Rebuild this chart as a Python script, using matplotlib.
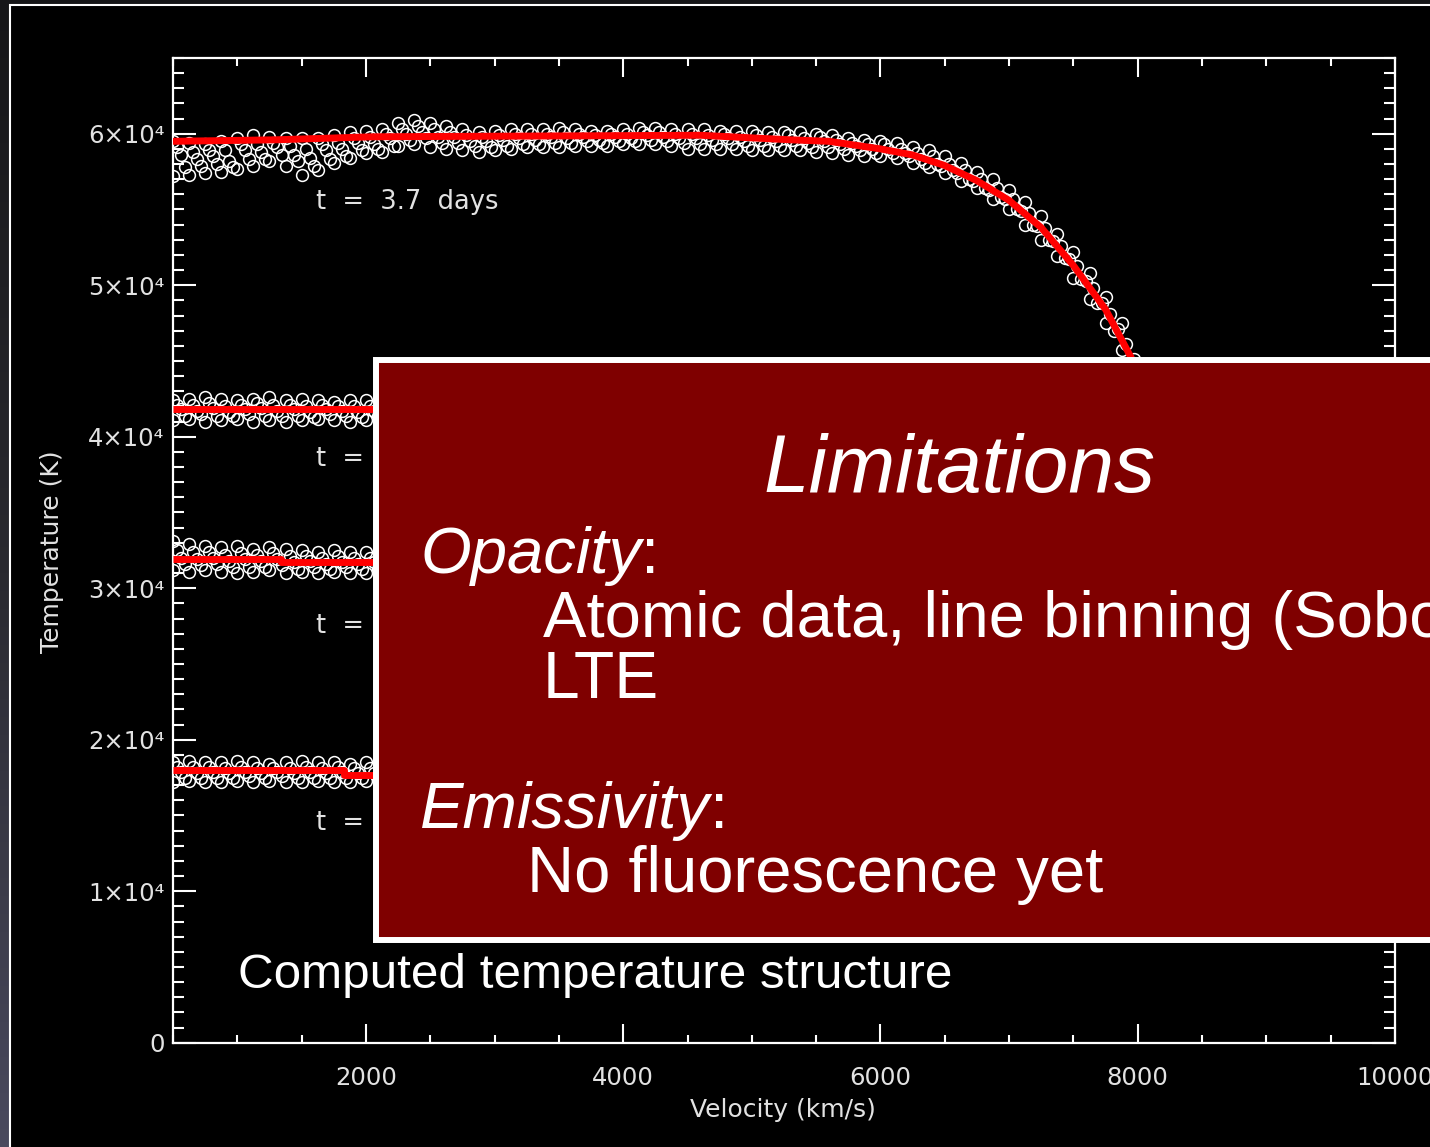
import matplotlib
matplotlib.use('Agg')
import matplotlib.pyplot as plt
import numpy as np
from matplotlib.patches import Rectangle
from matplotlib.colors import LinearSegmentedColormap
from matplotlib.ticker import MultipleLocator, FixedLocator, FixedFormatter

# ---------------- data ----------------
X_MAJOR = [2000, 4000, 6000, 8000, 10000]
X_LABELS = ['2000', '4000', '6000', '8000', '10000']
Y_MAJOR = [0, 10000, 20000, 30000, 40000, 50000, 60000]
Y_LABELS = ['0', '1×10⁴', '2×10⁴', '3×10⁴', '4×10⁴', '5×10⁴', '6×10⁴']

# t = 3.7 days : model (red) curve
MODEL1_V = [500, 1300, 2050, 4600, 5300, 5600, 6000, 6250, 6500, 6750, 7000, 7250, 7500, 7750, 7950, 8050]
MODEL1_T = [59500, 59600, 59800, 59900, 59600, 59500, 59000, 58600, 57900, 56900, 55600, 53800, 51300, 48400, 45200, 43000]

# t = 3.7 days : Monte-Carlo scatter (five rows of points across the band)
SCAT1_V = list(range(500, 7876, 125))
SCAT1_V_UM = list(range(531, 7907, 125))
SCAT1_V_MID = list(range(562, 7938, 125))
SCAT1_V_LM = list(range(594, 7970, 125))
SCAT1_UP = [59500, 59400, 59300, 59500, 59700, 59900, 59800, 59700, 59700, 59700,
            59900, 60100, 60200, 60300, 60700, 60900, 60700, 60500, 60300, 60100,
            60200, 60300, 60300, 60300, 60400, 60300, 60200, 60200, 60300, 60400,
            60400, 60300, 60300, 60300, 60200, 60200, 60200, 60100, 60100, 60100,
            60000, 59900, 59700, 59600, 59500, 59400, 59100, 58900, 58500, 58100,
            57500, 57000, 56300, 55500, 54600, 53400, 52200, 50800, 49200, 47500]
SCAT1_UM = [59100, 58800, 58900, 58900, 59300, 59300, 59400, 59200, 59000, 59300,
            59400, 59700, 59800, 60000, 60300, 60500, 60300, 60100, 59900, 59800,
            59900, 60000, 60000, 60000, 60100, 60000, 59900, 60000, 60000, 60100,
            60100, 60000, 60000, 59900, 60000, 59800, 59900, 59800, 59900, 59700,
            59800, 59600, 59400, 59300, 59300, 59000, 58700, 58500, 58000, 57600,
            57000, 56400, 55700, 54800, 53800, 52600, 51300, 49800, 48100, 46100]
SCAT1_MID = [58600, 58300, 58500, 58200, 58900, 58800, 59100, 58600, 58400, 58900,
             59000, 59400, 59300, 59700, 60000, 60100, 59800, 59800, 59500, 59500,
             59600, 59700, 59600, 59800, 59700, 59800, 59600, 59800, 59700, 59900,
             59800, 59700, 59700, 59600, 59700, 59500, 59600, 59500, 59600, 59400,
             59500, 59300, 59200, 59000, 59000, 58700, 58300, 58000, 57600, 57000,
             56400, 55800, 55000, 54000, 53000, 51800, 50400, 48800, 47000, 44800]
SCAT1_LM = [57800, 57900, 58000, 57800, 58300, 58300, 58600, 58200, 57900, 58300,
            58500, 58900, 59000, 59200, 59600, 59700, 59400, 59400, 59200, 59100,
            59200, 59300, 59300, 59400, 59400, 59500, 59400, 59500, 59500, 59600,
            59500, 59400, 59300, 59300, 59300, 59200, 59200, 59200, 59200, 59100,
            59100, 59000, 58900, 58700, 58700, 58500, 58100, 57900, 57400, 56900,
            56300, 55700, 54900, 53900, 52900, 51700, 50300, 48800, 47100, 45100]
SCAT1_LOW = [57200, 57300, 57400, 57500, 57700, 57900, 58200, 57900, 57300, 57600,
             58100, 58400, 58700, 58800, 59200, 59300, 59100, 59000, 58900, 58800,
             58900, 59000, 59100, 59100, 59100, 59200, 59200, 59200, 59300, 59300,
             59300, 59200, 59000, 59000, 59000, 59000, 58900, 58900, 58900, 58900,
             58800, 58700, 58600, 58500, 58500, 58400, 58100, 57800, 57400, 56900,
             56400, 55700, 55000, 54000, 53000, 51900, 50500, 49100, 47500, 45700]

# later epochs (visible part only, left of the overlay)
MODEL2_V = [500, 2100]
MODEL2_T = [41800, 41800]
MODEL3_V = [500, 1340, 1340, 2100]
MODEL3_T = [31900, 31900, 31700, 31700]
MODEL4_V = [500, 1830, 1830, 2100]
MODEL4_T = [18000, 18000, 17700, 17700]

SCAT_V = list(range(500, 2001, 125))
SCAT_V_UM = list(range(531, 2032, 125))
SCAT_V_MID = list(range(562, 2063, 125))
SCAT_V_LM = list(range(594, 2095, 125))
SCAT2_UP = [42400, 42500, 42600, 42500, 42400, 42500, 42600, 42400, 42500, 42400, 42300, 42400, 42400]
SCAT2_UM = [42100, 42100, 42200, 42000, 42100, 42200, 42100, 42100, 42000, 42100, 42000, 42000, 42000]
SCAT2_MID = [41800, 41700, 41900, 41600, 41800, 41900, 41700, 41800, 41600, 41800, 41700, 41600, 41700]
SCAT2_LM = [41400, 41500, 41400, 41400, 41500, 41400, 41400, 41400, 41300, 41500, 41400, 41300, 41400]
SCAT2_LOW = [41100, 41200, 41000, 41100, 41200, 41000, 41100, 41000, 41100, 41200, 41100, 41000, 41100]
SCAT3_UP = [33100, 32900, 32800, 32700, 32800, 32600, 32700, 32600, 32500, 32400, 32500, 32400, 32400]
SCAT3_UM = [32500, 32400, 32400, 32200, 32300, 32200, 32300, 32100, 32100, 32000, 32100, 32000, 32000]
SCAT3_MID = [32000, 31900, 32000, 31800, 31900, 31800, 31900, 31700, 31800, 31600, 31700, 31600, 31700]
SCAT3_LM = [31600, 31500, 31600, 31400, 31400, 31400, 31500, 31300, 31400, 31300, 31400, 31300, 31300]
SCAT3_LOW = [31200, 31100, 31200, 31100, 31000, 31100, 31200, 31000, 31100, 31000, 31100, 31000, 31000]
SCAT4_UP = [18500, 18600, 18500, 18500, 18600, 18500, 18400, 18500, 18600, 18500, 18500, 18400, 18500]
SCAT4_UM = [18200, 18200, 18200, 18100, 18200, 18100, 18100, 18100, 18200, 18100, 18200, 18100, 18100]
SCAT4_MID = [17900, 17800, 17900, 17800, 17900, 17800, 17900, 17800, 17900, 17800, 17900, 17800, 17800]
SCAT4_LM = [17500, 17500, 17500, 17500, 17600, 17500, 17600, 17500, 17500, 17500, 17500, 17500, 17500]
SCAT4_LOW = [17200, 17300, 17200, 17200, 17300, 17200, 17300, 17200, 17200, 17300, 17200, 17200, 17300]

# ---------------- figure ----------------
W, H = 1430, 1147
fig = plt.figure(figsize=(W / 100, H / 100), dpi=100)

def fx(px):
    return px / W

def fy(py):
    return 1 - py / H

# slide background
bg = fig.add_axes([0, 0, 1, 1], zorder=-10)
bg.axis('off')
cmap = LinearSegmentedColormap.from_list('g', ['#161618', '#2a2a30', '#4a4a5e'])
bg.imshow(np.linspace(0, 1, 256).reshape(-1, 1), aspect='auto', cmap=cmap,
          extent=[0, 1, 0, 1])
bg.set_xlim(0, 1)
bg.set_ylim(0, 1)
bg.add_patch(Rectangle((fx(10), -0.01), 1.0, fy(5) + 0.01, fc='black',
                       ec='white', lw=1.5))

# main axes
ax = fig.add_axes([fx(173), fy(1042.7), fx(1395) - fx(173), fy(58) - fy(1042.7)],
                  zorder=1)
ax.set_facecolor('black')
ax.set_xlim(500, 10000)
ax.set_ylim(0, 65000)

mk = dict(ls='none', marker='o', mfc='none', mec='white', ms=8.5, mew=1.1, zorder=2)
groups = [
    ((SCAT1_V, SCAT1_V_UM, SCAT1_V_MID, SCAT1_V_LM, SCAT1_V),
     (SCAT1_UP, SCAT1_UM, SCAT1_MID, SCAT1_LM, SCAT1_LOW)),
    ((SCAT_V, SCAT_V_UM, SCAT_V_MID, SCAT_V_LM, SCAT_V),
     (SCAT2_UP, SCAT2_UM, SCAT2_MID, SCAT2_LM, SCAT2_LOW)),
    ((SCAT_V, SCAT_V_UM, SCAT_V_MID, SCAT_V_LM, SCAT_V),
     (SCAT3_UP, SCAT3_UM, SCAT3_MID, SCAT3_LM, SCAT3_LOW)),
    ((SCAT_V, SCAT_V_UM, SCAT_V_MID, SCAT_V_LM, SCAT_V),
     (SCAT4_UP, SCAT4_UM, SCAT4_MID, SCAT4_LM, SCAT4_LOW)),
]
for vs, ts in groups:
    for v, t in zip(vs, ts):
        ax.plot(v, t, **mk)

for mv, mt in [(MODEL1_V, MODEL1_T), (MODEL2_V, MODEL2_T),
               (MODEL3_V, MODEL3_T), (MODEL4_V, MODEL4_T)]:
    ax.plot(mv, mt, color='#ff0000', lw=5, zorder=3, solid_capstyle='butt')

for s in ax.spines.values():
    s.set_color('white')
    s.set_linewidth(1.6)

ax.xaxis.set_major_locator(FixedLocator(X_MAJOR))
ax.xaxis.set_major_formatter(FixedFormatter(X_LABELS))
ax.xaxis.set_minor_locator(MultipleLocator(500))
ax.yaxis.set_major_locator(FixedLocator(Y_MAJOR))
ax.yaxis.set_major_formatter(FixedFormatter(Y_LABELS))
ax.yaxis.set_minor_locator(MultipleLocator(1000))
ax.tick_params(axis='x', which='major', direction='in', length=13.5, width=1.5,
               color='white', top=True, bottom=True, labelsize=17.5,
               labelcolor='#e2e2e2', pad=17)
ax.tick_params(axis='x', which='minor', direction='in', length=5.8, width=1.5,
               color='white', top=True, bottom=True)
ax.tick_params(axis='y', which='major', direction='in', length=16.5, width=1.5,
               color='white', left=True, right=True, labelsize=17.5,
               labelcolor='#e2e2e2', pad=6)
ax.tick_params(axis='y', which='minor', direction='in', length=8, width=1.5,
               color='white', left=True, right=True)

# axis titles
fig.text(fx(783), fy(1110), 'Velocity (km/s)', color='#e2e2e2', fontsize=18,
         ha='center', va='center')
fig.text(fx(52), fy(552), 'Temperature (K)', color='#e2e2e2', fontsize=18,
         ha='center', va='center', rotation=90)

# epoch labels
fig.text(fx(316), fy(202), 't  =  3.7  days', color='#e2e2e2', fontsize=18.5,
         ha='left', va='center')
for py in [459, 626, 823]:
    fig.text(fx(316), fy(py), 't  =', color='#e2e2e2', fontsize=18.5,
             ha='left', va='center')

fig.text(fx(238), fy(988), 'Computed temperature structure', color='white',
         fontsize=35.6, family='Liberation Sans', ha='left', va='baseline')

# overlay box
box = Rectangle((fx(376), fy(940)), 1.0, fy(360) - fy(940), transform=fig.transFigure,
                fc='#7f0000', ec='white', lw=4.3, zorder=10)
fig.add_artist(box)

tk = dict(color='white', family='Liberation Sans', va='baseline', zorder=11)
fig.text(fx(959), fy(492), 'Limitations', fontsize=59, style='italic',
         ha='center', **tk)
renderer = fig.canvas.get_renderer()
t1 = fig.text(fx(420), fy(573), 'Opacity', fontsize=47, style='italic', ha='left', **tk)
bb = t1.get_window_extent(renderer)
fig.text(bb.x1 / W, fy(573), ':', fontsize=47, ha='left', **tk)
fig.text(fx(543), fy(637), 'Atomic data, line binning (Sobolev)', fontsize=47,
         ha='left', **tk)
fig.text(fx(543), fy(698), 'LTE', fontsize=47.5, ha='left', **tk)
t2 = fig.text(fx(420), fy(828), 'Emissivity', fontsize=47, style='italic', ha='left', **tk)
bb = t2.get_window_extent(renderer)
fig.text(bb.x1 / W, fy(828), ':', fontsize=47, ha='left', **tk)
fig.text(fx(527), fy(892), 'No fluorescence yet', fontsize=47, ha='left', **tk)

fig.savefig('out.png', dpi=100, facecolor='#1a1a1c')
